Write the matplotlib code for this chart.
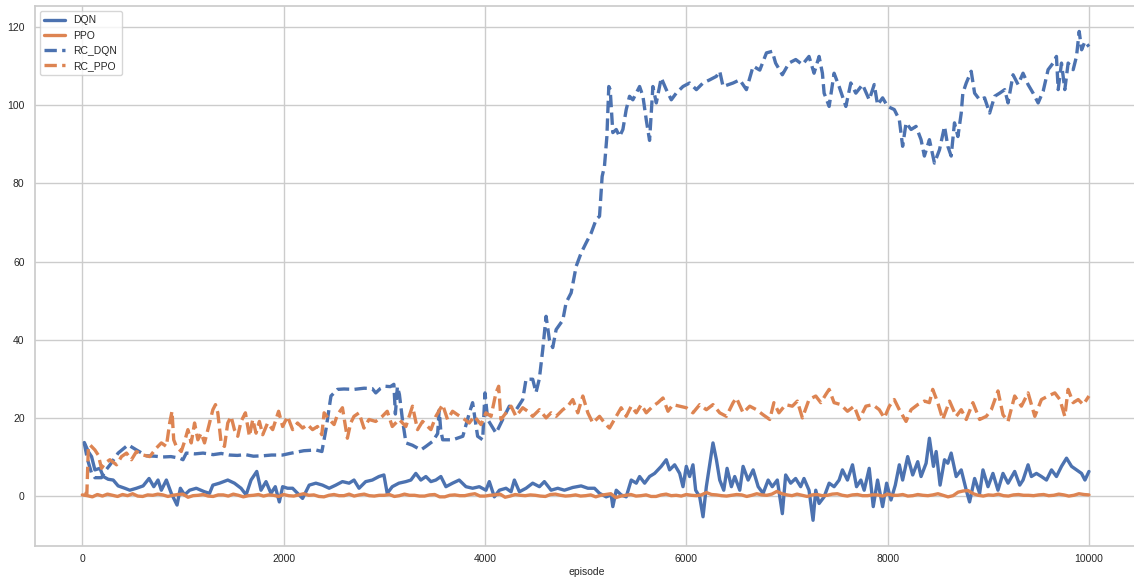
import matplotlib
matplotlib.use("Agg")
import matplotlib.pyplot as plt
import seaborn as sns

# values (episode, reward)
dqn_ep = [20, 59, 92, 125, 175, 208, 257, 307, 356, 422, 472, 538, 604, 663, 710, 752, 785, 835, 884, 941,
          974, 1016, 1066, 1132, 1214, 1264, 1297, 1363, 1445, 1511, 1577, 1627, 1676, 1733, 1775, 1825, 1874,
          1917, 1957, 1990, 2039, 2089, 2138, 2188, 2254, 2320, 2386, 2452, 2518, 2584, 2650, 2699, 2749, 2815,
          2881, 2947, 2996, 3029, 3079, 3145, 3214, 3264, 3313, 3363, 3413, 3463, 3512, 3562, 3612, 3678, 3744,
          3811, 3877, 3944, 4010, 4043, 4093, 4143, 4209, 4259, 4292, 4342, 4408, 4474, 4541, 4590, 4657, 4723,
          4789, 4872, 4955, 5022, 5088, 5138, 5204, 5254, 5270, 5304, 5353, 5403, 5453, 5503, 5536, 5586, 5635,
          5685, 5751, 5801, 5834, 5884, 5934, 5967, 6000, 6033, 6066, 6093, 6133, 6166, 6199, 6239, 6265, 6299,
          6332, 6372, 6405, 6448, 6481, 6531, 6564, 6614, 6664, 6714, 6763, 6813, 6854, 6904, 6954, 6987, 7037,
          7086, 7136, 7169, 7219, 7259, 7286, 7319, 7369, 7419, 7468, 7518, 7551, 7601, 7651, 7691, 7734, 7767,
          7817, 7857, 7900, 7950, 7990, 8033, 8076, 8116, 8149, 8199, 8249, 8299, 8332, 8382, 8415, 8455, 8482,
          8521, 8565, 8598, 8631, 8681, 8731, 8781, 8814, 8864, 8914, 8947, 8997, 9046, 9096, 9146, 9196, 9262,
          9312, 9345, 9395, 9428, 9478, 9528, 9578, 9628, 9677, 9727, 9777, 9827, 9877, 9926, 9960, 10000]
dqn_val = [13.7, 11.4, 10.1, 6.7, 7.1, 5.0, 4.3, 4.1, 2.6, 2.0, 1.5, 2.0, 2.6, 4.5, 2.4, 4.1, 1.5, 4.1, 0.7, -2.3,
           2.0, 0.3, 1.5, 2.0, 1.1, 0.7, 2.8, 3.3, 4.1, 3.3, 2.0, 0.3, 4.1, 6.3, 1.5, 3.7, 0.7,
           2.4, -1.5, 2.4, 2.0, 2.0, 0.7, -0.6, 2.8, 3.3, 2.8, 2.0, 2.8, 3.7, 3.3, 4.1, 2.0, 3.7,
           4.1, 5.0, 5.4, 0.7, 2.4, 3.3, 3.7, 4.1, 5.8, 4.1, 5.0, 3.7, 4.1, 5.0, 2.4, 3.3, 4.1,
           2.4, 2.0, 2.4, 1.5, 3.7, -0.2, 1.5, 2.0, 1.1, 4.1, 1.1, 2.0, 3.3, 2.4, 3.7, 1.5, 2.0,
           1.5, 2.2, 2.6, 2.0, 2.0, 0.7, -0.2, 0.3, -2.7, 1.5, 0.3, -0.2, 4.1, 3.3, 5.0, 3.3, 5.0,
           5.8, 7.6, 9.3, 6.7, 8.0, 5.8, 2.4, 7.6, 5.0, 8.0, 1.5, -0.2, -5.3, 2.4, 9.3, 13.6, 9.3,
           4.1, 1.5, 7.1, 2.4, 5.0, 1.5, 7.6, 4.1, 6.7, 2.4, 0.7, 4.1, 2.4, 4.1, -4.5, 5.4, 3.3,
           4.5, 2.4, 4.5, 1.5, -6.2, 1.5, -1.9, -0.2, 3.3, 2.4, 4.1, 6.7, 4.1, 8.0, 2.4, 4.1, 1.5,
           7.1, -2.7, 4.1, -2.7, 3.3, -1.0, 2.8, 8.0, 4.1, 10.1, 5.4, 8.8, 5.0, 8.4, 14.8, 7.6, 11.4,
           2.8, 9.3, 8.4, 11.0, 5.0, 6.7, 1.5, -1.5, 4.5, 0.7, 6.7, 2.4, 5.8, 1.5, 5.8, 3.3, 6.3,
           2.8, 4.1, 8.0, 5.0, 5.8, 5.0, 4.1, 6.7, 5.0, 7.6, 9.7, 7.6, 6.7, 5.8, 4.1, 6.3]

ppo_ep = list(range(0, 10001, 50))
ppo_val = [0.3, 0.1, -0.2, 0.4, 0.0, 0.5, 0.2, -0.1, 0.4, 0.1, 0.6, 0.0, -0.1, 0.3, 0.2, 0.5, 0.3, -0.1, 0.2, 0.4,
           0.5, -0.3, 0.1, 0.2, 0.4, 0.0, -0.1, 0.3, 0.3, 0.0, 0.5, 0.2, -0.2, 0.1, 0.2, 0.4, 0.0, 0.3, 0.2, -0.1,
           0.4, 0.1, 0.0, 0.3, 0.6, 0.2, 0.3, -0.1, -0.2, 0.2, 0.4, 0.1, 0.1, 0.5, 0.0, 0.3, 0.5, 0.1, 0.0, 0.2,
           0.2, 0.4, -0.1, 0.1, 0.5, 0.2, 0.2, 0.0, 0.0, 0.3, 0.4, -0.2, -0.2, 0.2, 0.3, 0.1, 0.1, 0.4, 0.6, 0.0,
           0.0, 0.2, 0.3, 0.5, -0.3, 0.0, 0.4, 0.2, 0.1, 0.3, 0.2, 0.0, -0.1, 0.4, 0.5, 0.2, 0.0, 0.1, 0.3, 0.0,
           0.1, 0.3, -0.2, 0.2, 0.4, 0.6, -0.4, 0.0, 0.2, 0.4, 0.0, 0.1, 0.3, -0.1, -0.1, 0.3, 0.5, 0.1, 0.2, 0.0,
           0.4, 0.2, 0.1, 0.3, 0.9, 0.4, 0.3, 0.1, 0.0, 0.2, 0.4, 0.3, -0.1, 0.2, 0.6, 0.3, 0.2, 0.5, 1.2, 0.6,
           0.3, 0.1, 0.5, 0.2, -0.1, 0.3, 0.4, 0.1, 0.2, 0.5, 0.6, 0.2, 0.0, 0.3, 0.4, 0.1, 0.1, 0.3, 0.3, 0.0,
           0.5, 0.2, 0.2, 0.4, 0.0, 0.1, 0.4, 0.2, 0.1, 0.3, 0.6, 0.2, -0.2, 0.1, 1.0, 1.3, 1.4, 0.6, 0.2, 0.0,
           0.3, 0.2, 0.5, 0.1, 0.0, 0.3, 0.4, 0.2, 0.2, 0.1, 0.3, 0.4, 0.1, 0.2, 0.5, 0.3, 0.0, 0.2, 0.6, 0.4,
           0.3]

rc_dqn_ep = [20, 50, 90, 125, 190, 230, 275, 356, 455, 538, 637, 720, 800, 880, 967, 1000, 1033, 1120, 1200,
             1300, 1380, 1460, 1540, 1620, 1700, 1790, 1880, 1990, 2060, 2120, 2200, 2320, 2380, 2420, 2470,
             2535, 2600, 2700, 2800, 2880, 2915, 2960, 3010, 3060, 3095, 3110, 3130, 3150, 3180, 3215, 3280,
             3363, 3413, 3480, 3530, 3545, 3560, 3580, 3680, 3780, 3845, 3877, 3927, 3977, 4000, 4027, 4110,
             4176, 4242, 4308, 4375, 4408, 4474, 4507, 4540, 4574, 4607, 4640, 4673, 4707, 4773, 4806, 4856,
             4906, 4955, 5005, 5055, 5105, 5138, 5164, 5187, 5211, 5230, 5244, 5270, 5304, 5337, 5370, 5403,
             5436, 5469, 5503, 5536, 5569, 5602, 5635, 5668, 5702, 5751, 5801, 5851, 5900, 5967, 6033, 6100,
             6166, 6232, 6299, 6332, 6365, 6465, 6531, 6597, 6664, 6730, 6796, 6854, 6887, 6954, 7020, 7087,
             7153, 7219, 7269, 7319, 7352, 7369, 7419, 7468, 7518, 7585, 7634, 7684, 7751, 7817, 7867, 7900,
             7950, 8000, 8066, 8116, 8149, 8183, 8233, 8282, 8332, 8365, 8415, 8465, 8515, 8565, 8598, 8631,
             8664, 8698, 8731, 8747, 8781, 8830, 8864, 8914, 8963, 9013, 9063, 9113, 9163, 9196, 9246, 9296,
             9345, 9395, 9445, 9495, 9545, 9594, 9644, 9677, 9694, 9727, 9760, 9793, 9843, 9876, 9903, 9927,
             9960, 10000]
rc_dqn_val = [13.5, 9.5, 6.0, 4.7, 4.7, 6.5, 8.0, 11.0, 13.1, 11.8, 10.3, 10.2, 10.0, 10.1, 9.7, 9.3, 11.0, 10.8, 11.0,
              10.6, 10.9, 10.5, 10.4, 10.6, 10.2, 10.3, 10.5, 10.5, 10.9, 11.2, 11.6, 11.8, 11.4, 17.0, 25.6,
              27.3, 27.4, 27.3, 27.6, 27.5, 26.4, 27.5, 28.1, 28.0, 28.6, 21.0, 28.0, 26.0, 19.6, 13.6, 13.0,
              11.8, 12.7, 14.0, 16.0, 22.0, 17.0, 14.4, 14.4, 15.3, 21.3, 23.9, 15.3, 14.4, 26.4, 19.6, 16.1,
              19.6, 23.0, 22.0, 24.7, 29.9, 29.9, 26.5, 30.0, 37.5, 46.0, 40.0, 38.0, 42.6, 45.0, 49.5, 52.0,
              58.8, 62.2, 64.8, 67.3, 70.8, 71.6, 81.8, 84.4, 92.0, 104.8, 104.0, 93.0, 93.8, 92.0, 93.8, 98.9,
              102.3, 101.4, 103.1, 104.8, 102.3, 96.3, 91.0, 104.8, 100.6, 107.0, 104.0, 101.4, 103.1, 104.8, 105.7, 104.0,
              105.7, 106.5, 107.4, 108.7, 104.8, 105.7, 106.5, 104.0, 110.0, 109.0, 113.4, 113.8, 110.8, 107.8, 110.8, 111.7,
              110.4, 112.5, 108.2, 112.5, 108.2, 103.1, 99.7, 108.2, 104.8, 99.7, 105.7, 103.1, 105.3, 101.4, 105.3, 100.1,
              101.9, 99.7, 98.9, 96.3, 89.5, 95.5, 93.8, 94.6, 91.2, 87.0, 91.2, 85.2, 88.6, 94.6, 89.5, 87.0,
              95.5, 92.0, 98.0, 103.1, 105.7, 108.7, 103.1, 101.4, 101.9, 98.0, 102.3, 103.1, 104.0, 100.6, 107.8, 105.3,
              108.2, 105.3, 103.1, 100.6, 103.6, 109.1, 110.8, 112.5, 104.0, 110.8, 104.0, 110.8, 109.1, 112.5, 118.9, 114.2,
              116.3, 115.0]

rc_ppo_ep = [20, 45, 60, 76, 125, 158, 191, 224, 274, 340, 389, 439, 488, 538, 604, 670, 736, 785, 835, 868,
             891, 908, 934, 983, 1016, 1049, 1082, 1115, 1148, 1181, 1214, 1264, 1297, 1323, 1346, 1379, 1412,
             1445, 1478, 1511, 1544, 1577, 1620, 1660, 1693, 1726, 1759, 1792, 1841, 1891, 1950, 1990, 2039,
             2089, 2138, 2188, 2237, 2287, 2336, 2379, 2402, 2452, 2501, 2534, 2584, 2633, 2666, 2699, 2749,
             2798, 2848, 2914, 2980, 3029, 3079, 3148, 3214, 3280, 3330, 3380, 3463, 3512, 3579, 3628, 3678,
             3728, 3778, 3844, 3894, 3960, 4010, 4060, 4109, 4136, 4159, 4209, 4259, 4308, 4375, 4425, 4474,
             4541, 4607, 4657, 4707, 4773, 4823, 4872, 4922, 4972, 5022, 5071, 5138, 5188, 5237, 5304, 5353,
             5403, 5453, 5503, 5552, 5602, 5668, 5718, 5768, 5818, 5867, 5934, 6000, 6066, 6133, 6199, 6265,
             6332, 6398, 6465, 6498, 6564, 6630, 6697, 6763, 6829, 6870, 6920, 6987, 7053, 7103, 7153, 7219,
             7286, 7336, 7386, 7419, 7468, 7535, 7601, 7668, 7718, 7784, 7851, 7917, 7967, 8017, 8066, 8116,
             8183, 8233, 8299, 8365, 8415, 8448, 8498, 8548, 8615, 8681, 8731, 8781, 8847, 8914, 8980, 9030,
             9096, 9146, 9196, 9262, 9329, 9395, 9462, 9528, 9594, 9661, 9711, 9760, 9793, 9843, 9893, 9943,
             10000]
rc_ppo_val = [0.7, 0.5, 12.5, 13.1, 11.8, 10.5, 7.1, 8.4, 9.3, 8.0, 10.1, 11.0, 9.3, 11.4, 10.5, 10.1, 12.3, 13.6, 12.7, 18.7,
              21.7, 14.4, 12.7, 11.4, 14.0, 17.0, 13.6, 18.7, 14.4, 16.1, 13.6, 18.7, 22.1, 23.4, 21.3, 13.6, 12.7,
              18.7, 20.4, 17.0, 15.3, 19.1, 21.3, 15.3, 19.6, 16.1, 19.1, 15.7, 18.7, 17.0, 21.7, 17.8, 20.4,
              17.0, 18.7, 17.4, 18.3, 17.0, 17.8, 15.7, 21.3, 19.6, 18.3, 20.8, 22.6, 14.8, 18.7, 20.4, 21.3,
              17.4, 19.6, 19.1, 20.4, 21.7, 17.8, 19.6, 17.8, 23.0, 17.0, 19.1, 17.0, 20.4, 23.4, 19.6, 21.7,
              20.8, 20.0, 18.7, 20.4, 18.3, 21.3, 20.4, 26.4, 28.1, 19.6, 21.3, 23.0, 20.4, 22.6, 21.7, 20.4,
              22.1, 20.0, 21.3, 20.4, 22.1, 23.0, 24.7, 21.3, 25.6, 21.3, 18.7, 20.4, 18.7, 17.4, 20.4, 22.6,
              20.4, 23.0, 21.3, 23.4, 21.3, 23.0, 23.9, 25.1, 21.7, 23.4, 23.0, 22.6, 21.3, 23.4, 22.1, 23.4,
              21.3, 20.4, 23.9, 25.1, 21.3, 23.0, 22.1, 20.8, 19.6, 23.9, 21.3, 23.4, 23.0, 24.3, 20.0, 24.7,
              25.6, 23.9, 26.0, 27.3, 23.9, 23.4, 21.7, 23.0, 19.6, 23.0, 23.4, 22.1, 20.0, 23.0, 24.7, 22.1,
              19.1, 22.1, 23.4, 24.3, 23.9, 27.3, 23.9, 19.6, 24.3, 20.4, 22.1, 19.6, 23.9, 19.6, 20.4, 22.1,
              26.9, 20.8, 19.1, 25.6, 23.0, 26.4, 20.4, 24.7, 25.6, 26.4, 24.7, 20.4, 27.3, 23.9, 24.7, 23.4,
              25.6]

sns.set_theme(style="whitegrid")
plt.rcParams["font.family"] = ["Liberation Sans", "DejaVu Sans"]

blue, orange = sns.color_palette("deep")[:2]

fig = plt.figure(figsize=(11.34, 5.8), dpi=100)
# axes run a little past the right edge, like the cropped original
ax = fig.add_axes([35 / 1134, 34.3 / 580, 1104 / 1134, 539.7 / 580])

lw = 2.4
ax.plot(dqn_ep, dqn_val, color=blue, lw=lw, label="DQN")
ax.plot(ppo_ep, ppo_val, color=orange, lw=lw, label="PPO")
ax.plot(rc_dqn_ep, rc_dqn_val, color=blue, lw=lw, ls="--", label="RC_DQN")
ax.plot(rc_ppo_ep, rc_ppo_val, color=orange, lw=lw, ls="--", label="RC_PPO")

ax.set_xlim(-470, 10497)
ax.set_ylim(-12.7, 125.4)
ax.set_xticks([0, 2000, 4000, 6000, 8000, 10000])
ax.set_yticks([0, 20, 40, 60, 80, 100, 120])
ax.tick_params(axis="x", labelsize=7.5, length=0, pad=6)
ax.tick_params(axis="y", labelsize=7.5, length=0, pad=7.5)
ax.set_xlabel("episode", fontsize=7.5, labelpad=2)

ax.legend(loc="upper left", fontsize=7.5, frameon=True)

fig.savefig("out.png", dpi=100)
